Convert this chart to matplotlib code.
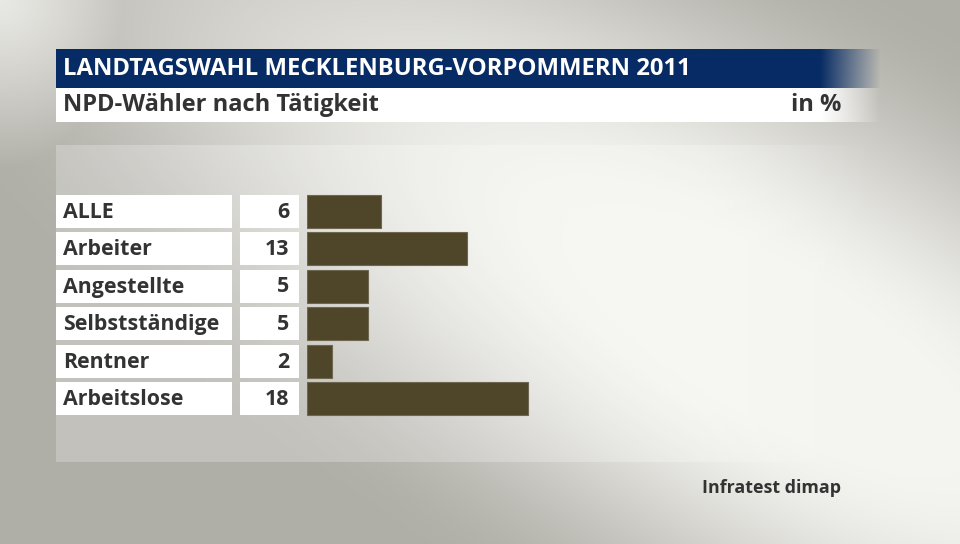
import numpy as np
import matplotlib.pyplot as plt
from matplotlib.patches import Rectangle

# data
categories = ["ALLE", "Arbeiter", "Angestellte", "Selbstständige", "Rentner", "Arbeitslose"]
values = [6, 13, 5, 5, 2, 18]
title = "LANDTAGSWAHL MECKLENBURG-VORPOMMERN 2011"
subtitle = "NPD-Wähler nach Tätigkeit"
unit = "in %"
source = "Infratest dimap"

W, H = 960, 544
font = "Open Sans"
txt = "#333333"
brown = "#4f4529"

fig = plt.figure(figsize=(W / 100, H / 100), dpi=100)
ax = fig.add_axes([0, 0, 1, 1])
ax.set_xlim(0, W)
ax.set_ylim(H, 0)
ax.axis("off")

# background: tilted light ellipse on grey, plus a soft glow top left
yy, xx = np.mgrid[0:H, 0:W].astype(float)
ang = np.deg2rad(30)
dx, dy = xx - 770, yy - 340
u = (dx * np.cos(ang) + dy * np.sin(ang)) / 900.0
v = (-dx * np.sin(ang) + dy * np.cos(ang)) / 300.0
d = np.sqrt(u ** 2 + v ** 2)
s = np.clip((d - 0.2) / 1.0, 0, 1)
s = s * s * (3 - 2 * s)
g = np.sqrt(xx ** 2 + yy ** 2) / 170.0
s = np.minimum(s, np.clip(g, 0, 1) ** 1.2 * 0.8 + 0.2 * s)
light = np.array([0.96, 0.96, 0.945])
dark = np.array([0.69, 0.686, 0.658])
bg = light * (1 - s[..., None]) + dark * s[..., None]
ax.imshow(bg, extent=(0, W, H, 0), zorder=0, aspect="auto")

# lighter panel behind the rows, its right edge fading out
px = np.arange(56, 881)
panel = np.ones((1, len(px), 4))
panel[0, :, 3] = 0.25 * np.clip((880 - px) / 180.0, 0, 1)
ax.imshow(panel, extent=(56, 881, 462, 145), zorder=1, aspect="auto",
          interpolation="bilinear")

# title bar and subtitle bar, fading out on the right
def fade_bar(y0, y1, rgb):
    x = np.arange(56, 882)
    a = np.clip((880 - x) / 60.0, 0, 1)
    img = np.zeros((1, len(x), 4))
    img[0, :, :3] = rgb
    img[0, :, 3] = a
    ax.imshow(img, extent=(56, 882, y1, y0), zorder=2, aspect="auto",
              interpolation="bilinear")

fade_bar(49, 88, np.array([7, 43, 100]) / 255)
fade_bar(88, 122, np.array([1.0, 1.0, 1.0]))

ax.text(63, 69, title, color="white", fontsize=17.2, fontweight="bold",
        family=font, va="center", ha="left", zorder=3)
ax.text(63, 105, subtitle, color=txt, fontsize=17.0, fontweight="bold",
        family=font, va="center", ha="left", zorder=3)
ax.text(841, 105, unit, color=txt, fontsize=17.0, fontweight="bold",
        family=font, va="center", ha="right", zorder=3)
ax.text(841, 488, source, color=txt, fontsize=12.9, fontweight="bold",
        family=font, va="center", ha="right", zorder=3)

# rows
y0, pitch, bh = 211, 37.5, 33
for i, (cat, v) in enumerate(zip(categories, values)):
    yc = y0 + i * pitch
    ax.add_patch(Rectangle((56, yc - bh / 2), 176, bh, facecolor="white",
                           edgecolor="none", zorder=2))
    ax.add_patch(Rectangle((240, yc - bh / 2), 59, bh, facecolor="white",
                           edgecolor="none", zorder=2))
    ax.text(63, yc + 1, cat, color=txt, fontsize=15.4, fontweight="bold",
            family=font, va="center", ha="left", zorder=3)
    ax.text(289, yc + 1, str(v), color=txt, fontsize=15.4, fontweight="bold",
            family=font, va="center", ha="right", zorder=3)

# bars on their own axes: 12.27 px per percent
bx0, bx1 = 307, 880
bax = fig.add_axes([bx0 / W, 1 - (y0 + 5.5 * pitch) / H,
                    (bx1 - bx0) / W, 6 * pitch / H])
bax.set_xlim(0, (bx1 - bx0) / 12.27)
bax.set_ylim(5.5, -0.5)
bax.axis("off")
bax.patch.set_alpha(0)
bax.barh(range(len(values)), values, height=bh / pitch, color=brown,
         edgecolor="#6f6650", linewidth=0.8)

fig.savefig("out.png", dpi=100)
